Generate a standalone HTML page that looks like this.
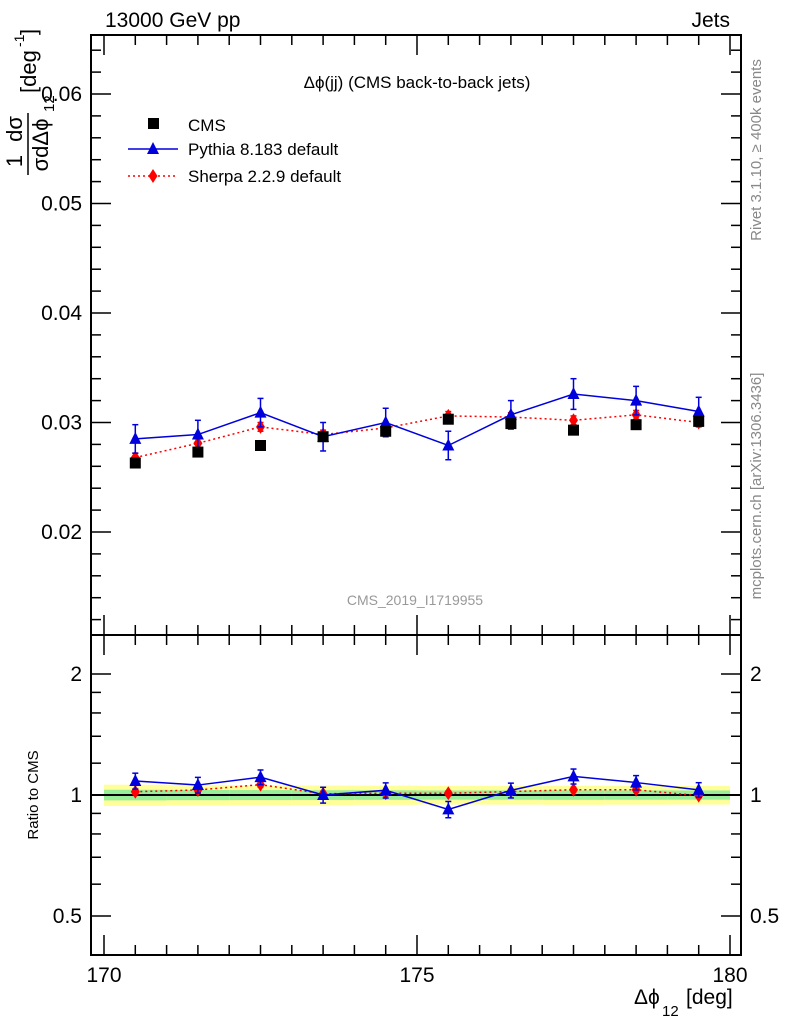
<!DOCTYPE html>
<html><head><meta charset="utf-8"><style>body{margin:0;background:#fff}svg{display:block;font-family:"Liberation Sans",sans-serif}</style></head>
<body>
<svg id="c" width="786" height="1024" xmlns="http://www.w3.org/2000/svg"></svg>
<script>
const xCenters=[170.5,171.5,172.5,173.5,174.5,175.5,176.5,177.5,178.5,179.5];
const cmsVals=[0.0263,0.0273,0.0279,0.0287,0.0292,0.0303,0.0299,0.0293,0.0298,0.0301];
const pyVals=[0.0285,0.0289,0.0309,0.0287,0.0300,0.0279,0.0307,0.0326,0.0320,0.0310];
const pyErr=[0.0013,0.0013,0.0013,0.0013,0.0013,0.0013,0.0013,0.0014,0.0013,0.0013];
const shVals=[0.0268,0.0281,0.0296,0.0289,0.0295,0.0306,0.0305,0.0302,0.0307,0.0300];
const shErr=[0.0004,0.0004,0.0004,0.0004,0.0004,0.0004,0.0004,0.0004,0.0004,0.0004];
const cmsErr=[0.0008,0.0008,0.0008,0.0008,0.0008,0.0008,0.0008,0.0008,0.0008,0.0008];
const yTicks=[0.02,0.03,0.04,0.05,0.06];
const rTicks=[0.5,1,2];
const xTicks=[170,175,180];
const NS="http://www.w3.org/2000/svg";
const svg=document.getElementById('c');
const X=v=>104+(v-170)*62.6;
const Y=v=>532-(v-0.02)*10950;
const R=r=>795-121*Math.log2(r);
function el(t,a,p){const e=document.createElementNS(NS,t);for(const k in a)e.setAttribute(k,a[k]);(p||svg).appendChild(e);return e;}
function txt(x,y,s,o,p){const e=el('text',Object.assign({x:x,y:y,'font-size':20,fill:'#000'},o||{}),p);e.textContent=s;return e;}
// bands
for(let i=0;i<10;i++){const lo=xCenters[i]-0.5,hi=xCenters[i]+0.5;const rel=cmsErr[i]/cmsVals[i];
 const y1=el('rect',{x:X(lo),y:R(1+2*rel),width:X(hi)-X(lo),height:R(1-2*rel)-R(1+2*rel),fill:'#ffff99'});
 
 const g=el('rect',{x:X(lo),y:R(1+rel),width:X(hi)-X(lo),height:R(1-rel)-R(1+rel),fill:'#99ee99'});
 }
el('line',{x1:91,x2:741,y1:R(1),y2:R(1),stroke:'#000','stroke-width':2});
const f1=el('rect',{x:91,y:35,width:650,height:600,fill:'none',stroke:'#000','stroke-width':2});

const f2=el('rect',{x:91,y:635,width:650,height:320,fill:'none',stroke:'#000','stroke-width':2});

for(let v=170;v<=180.01;v+=0.5){const maj=Math.abs(v-Math.round(v/5)*5)<0.01;const L=maj?20:10;
 [[635,-1],[35,1],[955,-1]].forEach(([y0,d])=>el('line',{x1:X(v),x2:X(v),y1:y0,y2:y0+d*L,stroke:'#000','stroke-width':1.5}));
 el('line',{x1:X(v),x2:X(v),y1:635,y2:635+(maj?20:10),stroke:'#000','stroke-width':1.5});}
xTicks.forEach(v=>{const t=txt(X(v),982,String(v),{'text-anchor':'middle','font-size':21});});
for(let v=0.012;v<=0.0651;v+=0.002){const maj=Math.abs(v*100-Math.round(v*100))<0.01;const L=maj?20:10;
 el('line',{x1:91,x2:91+L,y1:Y(v),y2:Y(v),stroke:'#000','stroke-width':1.5});el('line',{x1:741,x2:741-L,y1:Y(v),y2:Y(v),stroke:'#000','stroke-width':1.5});}
yTicks.forEach(v=>{const t=txt(82,Y(v)+7,v.toFixed(2),{'text-anchor':'end','font-size':21});});
[0.4,0.5,0.6,0.7,0.8,0.9,1,1.2,1.4,1.6,1.8,2].forEach(v=>{const maj=rTicks.includes(v);const L=maj?20:10;if(R(v)>955||R(v)<635)return;
 el('line',{x1:91,x2:91+L,y1:R(v),y2:R(v),stroke:'#000','stroke-width':1.5});el('line',{x1:741,x2:741-L,y1:R(v),y2:R(v),stroke:'#000','stroke-width':1.5});});
rTicks.forEach(v=>{const s=String(v);let t=txt(82,R(v)+7,s,{'text-anchor':'end','font-size':21});
 t=txt(750,R(v)+7,s,{'font-size':21});});
function tri(x,y,c){return el('polygon',{points:`${x},${y-7} ${x-6},${y+5} ${x+6},${y+5}`,fill:c});}
function dia(x,y,c){return el('polygon',{points:`${x},${y-7} ${x-4.5},${y} ${x},${y+7} ${x+4.5},${y}`,fill:c});}
function series(vals,err,yf,color,dash,marker,name){
 const pts=vals.map((v,i)=>X(xCenters[i])+','+yf(v,i)).join(' ');
 const l=el('polyline',{points:pts,fill:'none',stroke:color,'stroke-width':1.5,'stroke-dasharray':dash||''});
 
 vals.forEach((v,i)=>{const x=X(xCenters[i]);const a=yf(v+err[i],i),b=yf(v-err[i],i);
  el('line',{x1:x,x2:x,y1:a,y2:b,stroke:color,'stroke-width':1.5});
  el('line',{x1:x-3,x2:x+3,y1:a,y2:a,stroke:color,'stroke-width':1.5});el('line',{x1:x-3,x2:x+3,y1:b,y2:b,stroke:color,'stroke-width':1.5});
  const m=marker(x,yf(v,i),color);});}
series(shVals,shErr,v=>Y(v),'#ff0000','2,3',dia,'sherpa');
series(pyVals,pyErr,v=>Y(v),'#0000dd',null,tri,'pythia');
cmsVals.forEach((v,i)=>{const r=el('rect',{x:X(xCenters[i])-5.5,y:Y(v)-5.5,width:11,height:11,fill:'#000'});});
series(shVals,shErr,(v,i)=>R(v/cmsVals[i]),'#ff0000','2,3',dia,'sherpa-ratio');
series(pyVals,pyErr,(v,i)=>R(v/cmsVals[i]),'#0000dd',null,tri,'pythia-ratio');
let r=el('rect',{x:148,y:118,width:11,height:11,fill:'#000'});
txt(188,131,'CMS',{'font-size':17});
el('line',{x1:128,x2:178,y1:149,y2:149,stroke:'#0000dd','stroke-width':1.5});tri(153,149,'#0000dd');
txt(188,155,'Pythia 8.183 default',{'font-size':17});
el('line',{x1:128,x2:178,y1:176,y2:176,stroke:'#ff0000','stroke-width':1.5,'stroke-dasharray':'2,3'});dia(153,176,'#ff0000');
txt(188,182,'Sherpa 2.2.9 default',{'font-size':17});
txt(105,27,'13000 GeV pp',{'font-size':21});
txt(730,27,'Jets',{'font-size':21,'text-anchor':'end'});
txt(417,88,'Δϕ(jj) (CMS back-to-back jets)',{'font-size':17,'text-anchor':'middle'});
txt(415,605,'CMS_2019_I1719955',{'font-size':14,'text-anchor':'middle',fill:'#999'});
let t=txt(0,0,'Rivet 3.1.10, ≥ 400k events',{'font-size':15,fill:'#888','text-anchor':'middle',transform:'translate(761,150) rotate(-90)'});
t=txt(0,0,'mcplots.cern.ch [arXiv:1306.3436]',{'font-size':15,fill:'#888','text-anchor':'middle',transform:'translate(761,486) rotate(-90)'});
t=txt(0,0,'Ratio to CMS',{'font-size':15,'text-anchor':'middle',transform:'translate(38,795) rotate(-90)'});
const g=el('g',{transform:'translate(28,145) rotate(-90)'});
txt(-16,-6,'1',{'font-size':22,'text-anchor':'middle'},g);
txt(16,-6,'dσ',{'font-size':22,'text-anchor':'middle'},g);
el('line',{x1:-30,x2:32,y1:0,y2:0,stroke:'#000','stroke-width':1.5},g);
txt(0,20,'σdΔϕ',{'font-size':22,'text-anchor':'middle'},g);
txt(33,26,'12',{'font-size':15},g);
txt(52,8,'[deg',{'font-size':22},g);
txt(98,-4,'-1',{'font-size':14},g);
txt(110,8,']',{'font-size':22},g);
const xg=el('g',{});
txt(634,1004,'Δϕ',{'font-size':21},xg);
txt(662,1016,'12',{'font-size':15},xg);
txt(686,1004,'[deg]',{'font-size':21},xg);
</script>
</body></html>
